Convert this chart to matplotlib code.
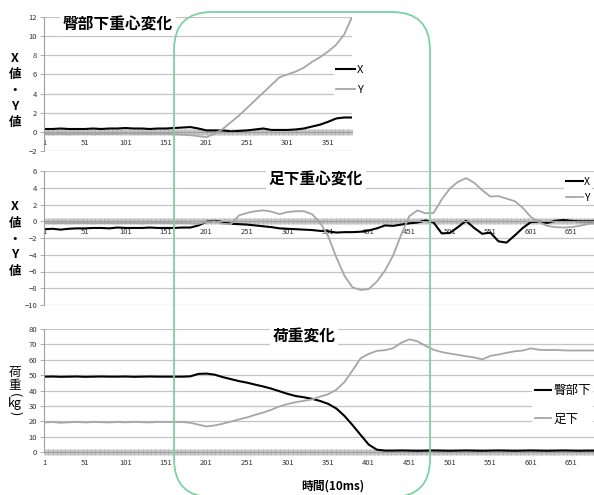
import matplotlib.pyplot as plt
from matplotlib.patches import FancyBboxPatch
from matplotlib.ticker import MultipleLocator, FixedLocator

plt.rcParams['font.family'] = ['Noto Sans CJK JP', 'DejaVu Sans']

# --- 臀部下重心変化 (samples every 10 frames) ---
t_hip = [1, 11, 21, 31, 41, 51, 61, 71, 81, 91, 101, 111, 121, 131, 141, 151,
         161, 171, 181, 191, 201, 211, 221, 231, 241, 251, 261, 271, 281, 291,
         301, 311, 321, 331, 341, 351, 361, 371, 380]
hip_x = [0.3, 0.3, 0.35, 0.3, 0.3, 0.3, 0.35, 0.3, 0.35, 0.35, 0.4, 0.35, 0.35,
         0.3, 0.35, 0.35, 0.4, 0.45, 0.5, 0.35, 0.15, 0.15, 0.15, 0.05, 0.1,
         0.15, 0.25, 0.35, 0.2, 0.2, 0.2, 0.25, 0.35, 0.55, 0.75, 1.05, 1.4,
         1.5, 1.5]
hip_y = [-0.2, -0.25, -0.2, -0.25, -0.2, -0.2, -0.25, -0.2, -0.2, -0.2, -0.15,
         -0.2, -0.2, -0.2, -0.2, -0.2, -0.25, -0.3, -0.35, -0.45, -0.55, -0.2,
         0.3, 1.0, 1.7, 2.5, 3.3, 4.1, 4.9, 5.7, 6.0, 6.3, 6.7, 7.3, 7.8, 8.4,
         9.1, 10.2, 11.9]

# --- 足下重心変化 / 荷重変化 (samples every 10 frames) ---
t_foot = [1, 11, 21, 31, 41, 51, 61, 71, 81, 91, 101, 111, 121, 131, 141, 151,
          161, 171, 181, 191, 201, 211, 221, 231, 241, 251, 261, 271, 281, 291,
          301, 311, 321, 331, 341, 351, 361, 371, 381, 391, 401, 411, 421, 431,
          441, 451, 461, 471, 481, 491, 501, 511, 521, 531, 541, 551, 561, 571,
          581, 591, 601, 611, 621, 631, 641, 651, 661, 671, 681]
foot_x = [-0.95, -0.9, -1.0, -0.9, -0.85, -0.85, -0.8, -0.8, -0.85, -0.75,
          -0.8, -0.8, -0.8, -0.75, -0.8, -0.8, -0.8, -0.75, -0.75, -0.5,
          -0.05, 0.05, -0.1, -0.3, -0.35, -0.4, -0.5, -0.6, -0.7, -0.85,
          -0.9, -0.95, -1.0, -1.05, -1.15, -1.2, -1.35, -1.3, -1.3, -1.25,
          -1.1, -0.85, -0.5, -0.55, -0.4, -0.25, -0.15, 0.1, -0.15, -1.45,
          -1.4, -0.7, 0.05, -0.8, -1.5, -1.35, -2.4, -2.55, -1.7, -0.8,
          -0.1, -0.05, -0.2, 0.05, 0.15, 0.05, 0.0, 0.0, 0.0]
foot_y = [-0.2, -0.25, -0.2, -0.25, -0.2, -0.2, -0.25, -0.2, -0.2, -0.25,
          -0.2, -0.2, -0.25, -0.2, -0.2, -0.2, -0.25, -0.2, -0.25, -0.3,
          -0.1, 0.0, -0.3, -0.35, 0.7, 1.0, 1.2, 1.3, 1.15, 0.85,
          1.1, 1.2, 1.2, 0.85, -0.15, -1.8, -4.3, -6.5, -7.9, -8.2,
          -8.1, -7.2, -5.9, -4.1, -1.6, 0.6, 1.3, 0.95, 1.0, 2.6,
          3.9, 4.7, 5.15, 4.6, 3.7, 2.95, 3.0, 2.7, 2.4, 1.6,
          0.5, -0.1, -0.55, -0.7, -0.75, -0.7, -0.55, -0.35, -0.2]
load_hip = [49.0, 49.1, 48.9, 49.0, 49.1, 48.9, 49.0, 49.1, 49.0, 49.0,
            49.1, 48.9, 49.0, 49.1, 49.0, 49.0, 49.0, 49.0, 49.2, 50.8,
            51.0, 50.3, 48.7, 47.4, 46.1, 45.1, 43.8, 42.6, 41.2, 39.5,
            37.8, 36.4, 35.6, 34.6, 33.2, 31.3, 28.3, 23.5, 17.5, 11.1,
            4.8, 1.5, 0.9, 0.9, 1.0, 0.9, 0.8, 0.9, 1.0, 0.9,
            0.8, 0.9, 1.0, 0.9, 0.8, 0.9, 1.0, 0.9, 0.8, 0.9,
            1.0, 0.9, 0.8, 0.9, 1.0, 0.9, 0.8, 0.9, 0.9]
load_foot = [19.2, 19.5, 19.0, 19.3, 19.6, 19.2, 19.5, 19.4, 19.2, 19.5,
             19.3, 19.6, 19.4, 19.2, 19.6, 19.5, 19.6, 19.5, 19.0, 17.8,
             16.6, 17.3, 18.4, 19.8, 21.2, 22.5, 24.2, 25.7, 27.5, 29.7,
             31.2, 32.4, 33.3, 34.2, 36.0, 37.6, 40.5, 45.5, 53.0, 61.0,
             63.8, 65.8, 66.2, 67.5, 71.0, 73.3, 72.0, 69.0, 66.5, 65.0,
             64.0, 63.2, 62.3, 61.5, 60.2, 62.5, 63.4, 64.5, 65.5, 66.0,
             67.4, 66.5, 66.3, 66.4, 66.1, 66.0, 66.0, 66.0, 66.0]

ticks_hip = [1, 51, 101, 151, 201, 251, 301, 351]
ticks_foot = [1, 51, 101, 151, 201, 251, 301, 351, 401, 451, 501, 551, 601, 651]

BLACK = '#000000'
GRAY = '#a6a6a6'
W, H = 594, 495
fig = plt.figure(figsize=(W / 100, H / 100), dpi=100)


def axes_px(left, top, right, bottom):
    return fig.add_axes([left / W, 1 - bottom / H, (right - left) / W, (bottom - top) / H])


def style(ax, ylim, ystep, xmax, xticks):
    ax.set_xlim(0.5, xmax)
    ax.set_ylim(*ylim)
    ax.yaxis.set_major_locator(MultipleLocator(ystep))
    ax.grid(axis='y', color='#c4c4c4', lw=0.9)
    ax.set_axisbelow(True)
    for s in ('top', 'right'):
        ax.spines[s].set_visible(False)
    ax.spines['left'].set_color('#a0a0a0')
    ax.spines['bottom'].set_position(('data', 0))
    ax.spines['bottom'].set_color('#a0a0a0')
    ax.xaxis.set_major_locator(FixedLocator(xticks))
    ax.xaxis.set_minor_locator(MultipleLocator(1))
    ax.tick_params(axis='x', which='both', direction='inout', length=5,
                   width=0.45, color='#a8a8a8', labelsize=5.5,
                   labelcolor='#333333', pad=2.5)
    ax.tick_params(axis='y', length=3, width=0.6, color='#a0a0a0',
                   labelsize=5.5, labelcolor='#333333', pad=2)


def legend(ax, x, y, fs, spacing, hlen=1.7):
    ax.legend(loc='center left', bbox_to_anchor=(x / W, 1 - y / H),
              bbox_transform=fig.transFigure, frameon=True, fancybox=False,
              facecolor='white', edgecolor='none', framealpha=1, fontsize=fs,
              handlelength=hlen, handletextpad=0.15, labelspacing=spacing,
              borderpad=0.2, borderaxespad=0)


# top: hip centre of gravity
ax1 = axes_px(44, 17, 352, 151)
ax1.plot(t_hip, hip_x, color=BLACK, lw=1.5, label='X')
ax1.plot(t_hip, hip_y, color=GRAY, lw=1.3, label='Y')
style(ax1, (-2, 12), 2, 380.5, ticks_hip)
legend(ax1, 334, 80, 8, 0.95)

# middle: foot centre of gravity
ax2 = axes_px(44, 171, 594, 305)
ax2.plot(t_foot, foot_x, color=BLACK, lw=1.5, label='X')
ax2.plot(t_foot, foot_y, color=GRAY, lw=1.3, label='Y')
style(ax2, (-10, 6), 2, 678.8, ticks_foot)
legend(ax2, 564, 190, 7.5, 0.55, hlen=1.6)

# bottom: load
ax3 = axes_px(44, 329, 594, 452)
ax3.plot(t_foot, load_hip, color=BLACK, lw=1.5, label='臀部下')
ax3.plot(t_foot, load_foot, color=GRAY, lw=1.3, label='足下')
style(ax3, (0, 80), 10, 678.8, ticks_foot)
legend(ax3, 532, 405, 9, 1.25, hlen=1.35)

title_box = dict(facecolor='white', edgecolor='none', pad=2)
fig.text(118 / W, 1 - 25 / H, '臀部下重心変化', ha='center', va='center',
         fontsize=11.3, fontweight='bold', bbox=title_box)
fig.text(316 / W, 1 - 180 / H, '足下重心変化', ha='center', va='center',
         fontsize=11.3, fontweight='bold', bbox=title_box)
fig.text(304 / W, 1 - 337 / H, '荷重変化', ha='center', va='center',
         fontsize=11.3, fontweight='bold', bbox=title_box)

fig.text(15 / W, 1 - 90 / H, 'X\n値\n・\nY\n値', ha='center', va='center',
         fontsize=9, fontweight='bold', linespacing=1.3)
fig.text(15 / W, 1 - 239 / H, 'X\n値\n・\nY\n値', ha='center', va='center',
         fontsize=9, fontweight='bold', linespacing=1.3)

# vertical "荷重(kg)" label, one glyph at a time
for s, y, rot in [('荷', 372, 0), ('重', 385, 0), ('(', 395, -90),
                  ('kg', 403, 0), (')', 413, -90)]:
    fig.text(15 / W, 1 - y / H, s, ha='center', va='center',
             fontsize=9, rotation=rot)

fig.text(333 / W, 1 - 486 / H, '時間(10ms)', ha='center', va='center',
         fontsize=8.5, fontweight='bold')

# rounded frame around the transition window
frame = FancyBboxPatch((1.74, -0.02), 2.56, 4.85,
                       boxstyle='round,pad=0,rounding_size=0.38',
                       transform=fig.dpi_scale_trans, fill=False,
                       edgecolor='#7fd0a2', lw=1.3, zorder=10)
fig.add_artist(frame)

fig.savefig('out.png', dpi=100)
